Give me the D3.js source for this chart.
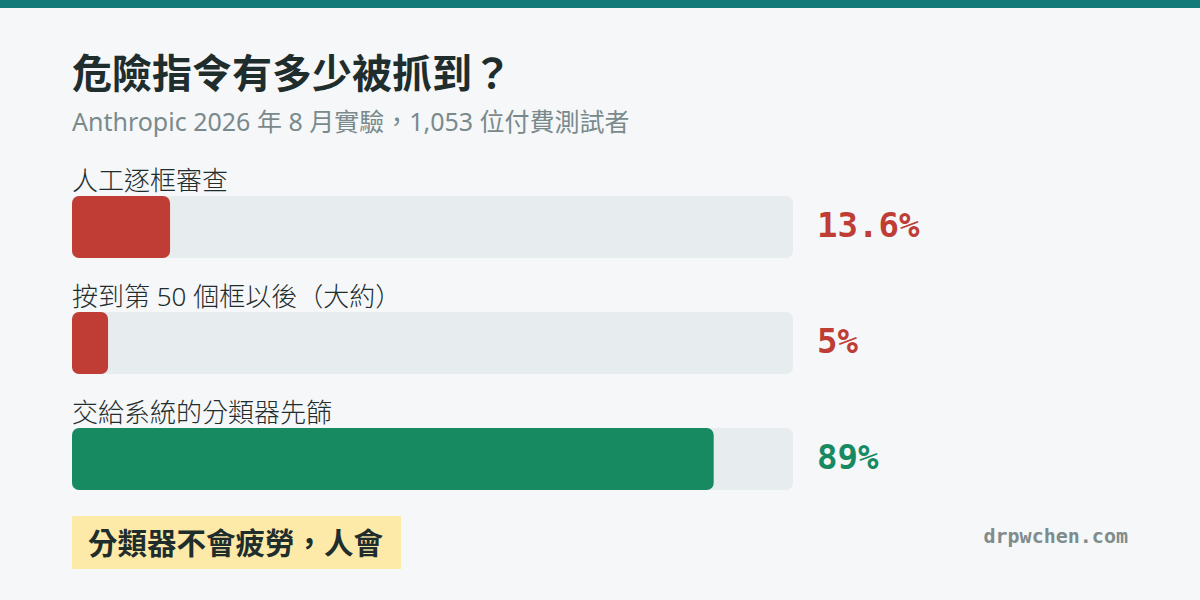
<!DOCTYPE html>
<html><head><meta charset="utf-8">
<script src="https://cdn.jsdelivr.net/npm/d3@7"></script>
<style>html,body{margin:0;padding:0;background:#f5f7f9;}svg{display:block;}</style>
</head><body>
<svg id="chart" width="1200" height="600"></svg>
<script>
const categories = ["人工逐框審查", "按到第 50 個框以後（大約）", "交給系統的分類器先篩"];
const values = [13.6, 5, 89];
const valueLabels = ["13.6%", "5%", "89%"];
const barColors = ["#bf3d35", "#bf3d35", "#178a62"];
const title = "危險指令有多少被抓到？";
const subtitle = "Anthropic 2026 年 8 月實驗，1,053 位付費測試者";
const callout = "分類器不會疲勞，人會";
const credit = "drpwchen.com";

const svg = d3.select("#chart");
const cjk = "'Noto Sans', 'Noto Sans CJK TC', sans-serif";
const mono = "'DejaVu Sans Mono', monospace";

svg.append("rect").attr("x",0).attr("y",0).attr("width",1200).attr("height",600).attr("fill","#f5f7f9");
svg.append("rect").attr("x",0).attr("y",0).attr("width",1200).attr("height",8).attr("fill","#137a7a");

svg.append("text").attr("x",72).attr("y",88).text(title)
  .attr("font-family",cjk).attr("font-weight",700).attr("font-size",40).attr("fill","#1f2d2d");
svg.append("text").attr("x",72).attr("y",131).text(subtitle)
  .attr("font-family",cjk).attr("font-size",25).attr("fill","#7a8a8c");

const x = d3.scaleLinear().domain([0,100]).range([0,721]);
const y = d3.scaleBand().domain(categories).range([196,490]).paddingInner(54/116).paddingOuter(0);
const g = svg.append("g").attr("transform","translate(72,0)");

const rows = g.selectAll("g.row").data(categories).join("g").attr("class","row");
rows.append("text").attr("x",0).attr("y",d=>y(d)-6).text(d=>d)
  .attr("font-family",cjk).attr("font-weight",300).attr("font-size",26).attr("fill","#1f2d2d");
rows.append("rect").attr("x",0).attr("y",d=>y(d)).attr("width",x(100)).attr("height",y.bandwidth())
  .attr("rx",7).attr("fill","#e7ecee");
rows.append("rect").attr("x",0).attr("y",d=>y(d)).attr("width",(d,i)=>x(values[i])).attr("height",y.bandwidth())
  .attr("rx",7).attr("fill",(d,i)=>barColors[i]);
rows.append("text").attr("x",x(100)+24).attr("y",d=>y(d)+y.bandwidth()/2+10).text((d,i)=>valueLabels[i])
  .attr("font-family",mono).attr("font-weight",700).attr("font-size",34).attr("fill",(d,i)=>barColors[i]);

svg.append("rect").attr("x",72).attr("y",516).attr("width",329).attr("height",53).attr("fill","#fdeaa8");
svg.append("text").attr("x",88).attr("y",554).text(callout)
  .attr("font-family",cjk).attr("font-weight",700).attr("font-size",29.5).attr("fill","#1f2d2d");

svg.append("text").attr("x",1128).attr("y",543).attr("text-anchor","end").text(credit)
  .attr("font-family",mono).attr("font-weight",700).attr("font-size",20).attr("fill","#7f8c8c");
</script>
</body></html>
